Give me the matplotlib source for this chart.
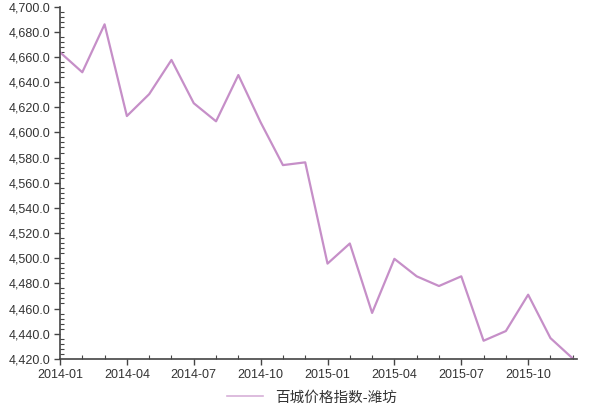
import matplotlib
matplotlib.use('Agg')
import matplotlib.pyplot as plt
from matplotlib.ticker import MultipleLocator, FuncFormatter
from matplotlib.lines import Line2D

plt.rcParams['font.family'] = ['Liberation Sans', 'Noto Sans CJK SC', 'DejaVu Sans']

# Monthly data, 2014-01 .. 2015-12
months = ['2014-01', '2014-02', '2014-03', '2014-04', '2014-05', '2014-06',
          '2014-07', '2014-08', '2014-09', '2014-10', '2014-11', '2014-12',
          '2015-01', '2015-02', '2015-03', '2015-04', '2015-05', '2015-06',
          '2015-07', '2015-08', '2015-09', '2015-10', '2015-11', '2015-12']
values = [4663.7, 4647.8, 4685.9, 4613.0, 4630.4, 4657.6,
          4623.2, 4608.8, 4645.6, 4608.0, 4574.0, 4576.2,
          4495.7, 4511.7, 4456.5, 4499.5, 4485.6, 4477.9,
          4485.6, 4434.4, 4442.1, 4471.0, 4436.5, 4420.3]
series_name = '百城价格指数-潍坊'
line_color = '#c68fc8'

fig = plt.figure(figsize=(6, 4.12), dpi=100)
ax = fig.add_axes([0.1, 0.129, 0.862, 0.855])

x = list(range(len(months)))
ax.plot(x, values, color=line_color, linewidth=1.6)

ax.set_xlim(0, 23.2)
ax.set_ylim(4420, 4700)

# ticks
ax.xaxis.set_major_locator(MultipleLocator(3))
ax.xaxis.set_minor_locator(MultipleLocator(1))
ax.xaxis.set_major_formatter(FuncFormatter(
    lambda v, p: months[int(round(v))] if 0 <= int(round(v)) < len(months) else ''))
ax.yaxis.set_major_locator(MultipleLocator(20))
ax.yaxis.set_minor_locator(MultipleLocator(4))
ax.yaxis.set_major_formatter(FuncFormatter(lambda v, p: f'{v:,.1f}'))

ax.tick_params(axis='both', which='major', direction='out', length=4, width=1,
               color='#444444', labelsize=9, labelcolor='#333333', pad=3)
ax.tick_params(axis='both', which='minor', direction='in', length=3, width=0.8,
               color='#444444')

for side in ['top', 'right']:
    ax.spines[side].set_visible(False)
for side in ['left', 'bottom']:
    ax.spines[side].set_color('#444444')
    ax.spines[side].set_linewidth(1.2)

handle = Line2D([], [], color=line_color, linewidth=1.2, alpha=0.7)
fig.legend([handle], [series_name], loc='center', bbox_to_anchor=(0.52, 0.035),
           frameon=False, fontsize=10.5, handlelength=2.5, handletextpad=0.8,
           labelcolor='#333333')

fig.savefig('out.png', dpi=100)
